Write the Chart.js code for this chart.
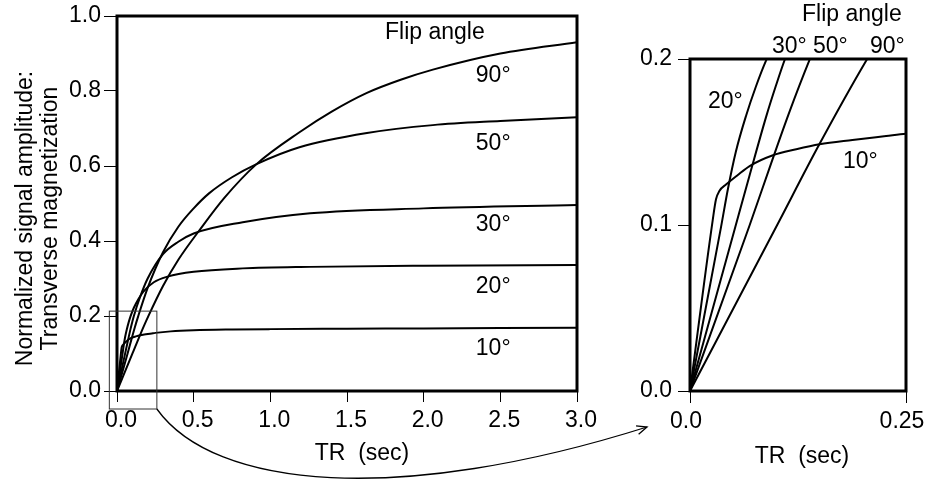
<!DOCTYPE html>
<html>
<head>
<meta charset="utf-8">
<script src="https://cdn.jsdelivr.net/npm/chart.js@4.4.1/dist/chart.umd.min.js"></script>
<style>
  html, body { margin: 0; padding: 0; background: #fff; }
  #wrap { position: relative; width: 925px; height: 484px; }
  #wrap canvas { position: absolute; left: 0; top: 0; }
</style>
</head>
<body>
<div id="wrap">
  <canvas id="mainChart" width="925" height="484"></canvas>
  <canvas id="zoomChart" width="925" height="484"></canvas>
</div>
<script>
// flip angle curves (TR in sec, normalized signal)
const flipLabels = ['10°', '20°', '30°', '50°', '90°'];

const tr10 = [0, 0.0263, 0.0301, 0.034, 0.042, 0.055, 0.069, 0.096, 0.123, 0.15, 0.188, 0.227, 0.25, 0.35, 0.5, 0.75, 1.0, 1.5, 2.0, 2.5, 3.0];
const sig10 = [0, 0.103, 0.1155, 0.1205, 0.1245, 0.130, 0.1355, 0.142, 0.1456, 0.1486, 0.1512, 0.1536, 0.155, 0.159, 0.162, 0.164, 0.165, 0.166, 0.167, 0.168, 0.169];

const tr20 = [0, 0.036, 0.044, 0.053, 0.065, 0.076, 0.088, 0.11, 0.14, 0.172, 0.24, 0.33, 0.5, 0.82, 1.26, 2.0, 3.0];
const sig20 = [0, 0.099, 0.122, 0.144, 0.166, 0.183, 0.199, 0.222, 0.245, 0.265, 0.29, 0.305, 0.318, 0.327, 0.331, 0.334, 0.336];

const tr30 = [0, 0.0525, 0.069, 0.088, 0.0995, 0.11, 0.15, 0.2, 0.3, 0.4, 0.5, 0.82, 1.26, 2.0, 3.0];
const sig30 = [0, 0.099, 0.130, 0.165, 0.184, 0.2, 0.25, 0.30, 0.365, 0.398, 0.42, 0.45, 0.474, 0.487, 0.496];

const tr50 = [0, 0.0687, 0.0938, 0.115, 0.138, 0.2, 0.3, 0.4, 0.5, 0.6, 0.75, 0.91, 1.19, 1.63, 2.06, 2.5, 3.0];
const sig50 = [0, 0.0994, 0.137, 0.168, 0.199, 0.275, 0.37, 0.438, 0.487, 0.527, 0.57, 0.605, 0.65, 0.688, 0.709, 0.72, 0.73];

const tr90 = [0, 0.1003, 0.1497, 0.2037, 0.3, 0.4, 0.54, 0.7, 0.91, 1.19, 1.4, 1.63, 1.85, 2.06, 2.5, 3.0];
const sig90 = [0, 0.0994, 0.1486, 0.1988, 0.28, 0.35, 0.43, 0.515, 0.605, 0.69, 0.745, 0.795, 0.83, 0.857, 0.9, 0.93];

const mainXTicks = ['0.0', '0.5', '1.0', '1.5', '2.0', '2.5', '3.0'];
const mainYTicks = ['0.0', '0.2', '0.4', '0.6', '0.8', '1.0'];
const zoomXTicks = ['0.0', '0.25'];
const zoomYTicks = ['0.0', '0.1', '0.2'];

// where the angle labels sit (data units, text baseline)
const mainLabelX = 2.34;
const mainLabelY = [0.096, 0.261, 0.427, 0.643, 0.824];
const zoomLabelPos = [[0.1771, 0.1343], [0.0208, 0.1705], [0.0949, 0.2036], [0.1424, 0.2036], [0.2083, 0.2036]];

const FONT = '"Liberation Sans", Arial, Helvetica, sans-serif';
Chart.defaults.font.family = FONT;
Chart.defaults.color = '#000';

const series = [[tr10, sig10], [tr20, sig20], [tr30, sig30], [tr50, sig50], [tr90, sig90]];

const makeDatasets = () => series.map((s, i) => ({
    label: flipLabels[i],
    data: s[0].map((x, j) => ({ x: x, y: s[1][j] })),
    borderColor: '#000',
    borderWidth: 2,
    pointRadius: 0,
    fill: false,
    cubicInterpolationMode: 'monotone'
}));

const drawText = (ctx, text, x, y, align) => {
    ctx.font = '23px ' + FONT;
    ctx.fillStyle = '#000';
    ctx.textAlign = align || 'left';
    ctx.textBaseline = 'alphabetic';
    ctx.fillText(text, x, y);
};

// thick box round the plot area
const frame = {
    id: 'frame',
    afterDatasetsDraw(chart) {
        const { ctx, chartArea: a } = chart;
        ctx.save();
        ctx.strokeStyle = '#000';
        ctx.lineWidth = 3;
        ctx.strokeRect(a.left, a.top, a.right - a.left, a.bottom - a.top);
        ctx.restore();
    }
};

const fixSize = (w, h) => (s) => {
    if (w !== undefined) s.width = w;
    if (h !== undefined) s.height = h;
    s.paddingTop = 0;
    s.paddingBottom = 0;
    s.paddingLeft = 0;
    s.paddingRight = 0;
};

const mainNotes = {
    id: 'mainNotes',
    afterDraw(chart) {
        const { ctx, chartArea: a } = chart;
        const xs = chart.scales.x, ys = chart.scales.y;
        ctx.save();

        drawText(ctx, 'Flip angle', xs.getPixelForValue(1.748), ys.getPixelForValue(0.939));
        flipLabels.forEach((lab, i) => {
            drawText(ctx, lab, xs.getPixelForValue(mainLabelX), ys.getPixelForValue(mainLabelY[i]));
        });

        // axis titles
        drawText(ctx, 'TR  (sec)', (a.left + a.right) / 2 + 15, 460, 'center');
        const cy = (a.top + a.bottom) / 2 + 15;
        ctx.save();
        ctx.translate(32, cy);
        ctx.rotate(-Math.PI / 2);
        drawText(ctx, 'Normalized signal amplitude:', 0, 0, 'center');
        ctx.restore();
        ctx.save();
        ctx.translate(57, cy);
        ctx.rotate(-Math.PI / 2);
        drawText(ctx, 'Transverse magnetization', 0, 0, 'center');
        ctx.restore();

        // box marking the enlarged region
        const rx1 = xs.getPixelForValue(-0.05), rx2 = xs.getPixelForValue(0.26);
        const ry1 = ys.getPixelForValue(0.213), ry2 = ys.getPixelForValue(-0.048);
        ctx.strokeStyle = '#333';
        ctx.lineWidth = 1;
        ctx.strokeRect(rx1, ry1, rx2 - rx1, ry2 - ry1);

        // curved arrow over to the zoomed panel
        const p0 = { x: rx2, y: ry2 };
        const c1 = { x: 215, y: 490 };
        const c2 = { x: 400, y: 505 };
        const p3 = { x: 647, y: 427 };
        ctx.strokeStyle = '#000';
        ctx.lineWidth = 1.3;
        ctx.beginPath();
        ctx.moveTo(p0.x, p0.y);
        ctx.bezierCurveTo(c1.x, c1.y, c2.x, c2.y, p3.x, p3.y);
        ctx.stroke();
        const ang = Math.atan2(p3.y - c2.y, p3.x - c2.x);
        ctx.beginPath();
        ctx.moveTo(p3.x - 11 * Math.cos(ang - 0.4), p3.y - 11 * Math.sin(ang - 0.4));
        ctx.lineTo(p3.x, p3.y);
        ctx.lineTo(p3.x - 11 * Math.cos(ang + 0.4), p3.y - 11 * Math.sin(ang + 0.4));
        ctx.stroke();

        ctx.restore();
    }
};

const zoomNotes = {
    id: 'zoomNotes',
    afterDraw(chart) {
        const { ctx, chartArea: a } = chart;
        const xs = chart.scales.x, ys = chart.scales.y;
        ctx.save();
        drawText(ctx, 'Flip angle', xs.getPixelForValue(0.1296), ys.getPixelForValue(0.2229));
        flipLabels.forEach((lab, i) => {
            drawText(ctx, lab, xs.getPixelForValue(zoomLabelPos[i][0]), ys.getPixelForValue(zoomLabelPos[i][1]));
        });
        drawText(ctx, 'TR  (sec)', (a.left + a.right) / 2 + 4, 463, 'center');
        ctx.restore();
    }
};

const baseOptions = {
    responsive: false,
    animation: false,
    devicePixelRatio: 1,
    plugins: { legend: { display: false }, tooltip: { enabled: false } }
};

new Chart(document.getElementById('mainChart'), {
    type: 'line',
    data: { datasets: makeDatasets() },
    options: {
        ...baseOptions,
        layout: { padding: { left: 0, top: 16, right: 348, bottom: 0 } },
        scales: {
            x: {
                type: 'linear',
                min: 0,
                max: 3,
                afterFit: fixSize(undefined, 93),
                border: { display: false },
                grid: { drawOnChartArea: false, tickLength: 11, color: '#000' },
                ticks: {
                    stepSize: 0.5,
                    padding: 5,
                    labelOffset: 4,
                    maxRotation: 0,
                    autoSkip: false,
                    font: { size: 23 },
                    callback: (v, i) => mainXTicks[i]
                }
            },
            y: {
                min: 0,
                max: 1,
                afterFit: fixSize(117, undefined),
                border: { display: false },
                grid: { drawOnChartArea: false, tickLength: 13, color: '#000' },
                ticks: {
                    stepSize: 0.2,
                    padding: 3,
                    font: { size: 23 },
                    callback: (v, i) => mainYTicks[i]
                }
            }
        }
    },
    plugins: [frame, mainNotes]
});

new Chart(document.getElementById('zoomChart'), {
    type: 'line',
    data: { datasets: makeDatasets() },
    options: {
        ...baseOptions,
        layout: { padding: { left: 0, top: 59, right: 19, bottom: 0 } },
        scales: {
            x: {
                type: 'linear',
                min: 0,
                max: 0.25,
                afterFit: fixSize(undefined, 93),
                border: { display: false },
                grid: { drawOnChartArea: false, tickLength: 12, color: '#000' },
                ticks: {
                    stepSize: 0.25,
                    padding: 5,
                    labelOffset: -4,
                    maxRotation: 0,
                    autoSkip: false,
                    font: { size: 23 },
                    callback: (v, i) => zoomXTicks[i]
                }
            },
            y: {
                min: 0,
                max: 0.2,
                afterFit: fixSize(690, undefined),
                border: { display: false },
                grid: { drawOnChartArea: false, tickLength: 12, color: '#000' },
                ticks: {
                    stepSize: 0.1,
                    padding: 6,
                    font: { size: 23 },
                    callback: (v, i) => zoomYTicks[i]
                }
            }
        }
    },
    plugins: [frame, zoomNotes]
});
</script>
</body>
</html>
